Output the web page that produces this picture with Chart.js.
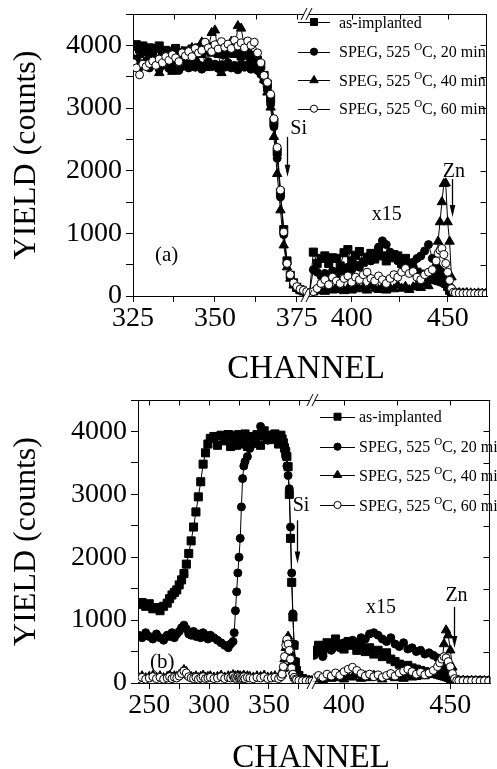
<!DOCTYPE html>
<html>
<head>
<meta charset="utf-8">
<script src="https://cdn.jsdelivr.net/npm/chart.js@4.4.0/dist/chart.umd.min.js"></script>
<style>
  html, body { margin: 0; padding: 0; background: #fff; }
  .panel { position: absolute; left: 0; width: 497px; }
  .panel canvas { position: absolute; left: 0; top: 0; }
</style>
</head>
<body>
<div class="panel" style="top:0;height:385px">
  <canvas id="aLeft" width="497" height="385"></canvas>
  <canvas id="aRight" width="497" height="385"></canvas>
</div>
<div class="panel" style="top:385px;height:384px">
  <canvas id="bLeft" width="497" height="384"></canvas>
  <canvas id="bRight" width="497" height="384"></canvas>
</div>
<script>
// ---- data (channel, yield in counts as plotted) ----

// legend text: [before superscript, superscript, after]
const legendText = [
    ['as-implanted'],
    ['SPEG, 525 ', 'O', 'C, 20 min'],
    ['SPEG, 525 ', 'O', 'C, 40 min'],
    ['SPEG, 525 ', 'O', 'C, 60 min']
];

// panel (a), left part of the broken axis
const chA_left = [325, 326, 327, 328, 329, 330, 331, 332, 333, 334,
    335, 336, 337, 338, 339, 340, 341, 342, 343, 344,
    345, 346, 347, 348, 349, 350, 351, 352, 353, 354,
    355, 356, 357, 358, 359, 360, 361, 362, 363, 364,
    365, 366, 367, 368, 369, 370, 371, 372, 373, 374,
    375, 376, 377, 378];
const aLeft_asImp = [3980, 4010, 3940, 3990, 3900, 3960, 3880, 3950, 3990, 3870,
    3920, 3860, 3900, 3950, 3880, 3820, 3910, 3860, 3940, 3890,
    3960, 3870, 3920, 3980, 3890, 3940, 3870, 3910, 3850, 3930,
    3880, 3950, 3900, 3830, 3890, 3860, 3800, 3840, 3760, 3680,
    3520, 3380, 3150, 2780, 2300, 1650, 1060, 560, 330, 210,
    140, 100, 80, 60];
const aLeft_20 = [3720, 3780, 3650, 3700, 3740, 3640, 3690, 3760, 3620, 3680,
    3710, 3630, 3670, 3740, 3600, 3660, 3700, 3640, 3720, 3650,
    3690, 3620, 3680, 3740, 3660, 3700, 3630, 3690, 3650, 3720,
    3640, 3680, 3610, 3700, 3650, 3690, 3620, 3660, 3600, 3540,
    3440, 3290, 3060, 2700, 2200, 1580, 980, 520, 300, 190,
    130, 95, 75, 60];
const aLeft_40 = [3800, 3740, 3850, 3690, 3760, 3820, 3700, 3790, 3560, 3830,
    3720, 3870, 3580, 3760, 3810, 3900, 3740, 3850, 3960, 3800,
    3900, 4050, 3640, 3950, 4200, 4240, 3880, 3560, 3990, 3920,
    4060, 3850, 4310, 4270, 3980, 3900, 3820, 3760, 3690, 3600,
    3450, 3250, 3010, 2540, 1950, 1370, 810, 460, 280, 170,
    120, 90, 70, 55];
const aLeft_60 = [3720, 3640, 3530, 3700, 3660, 3710, 3750, 3680, 3780, 3720,
    3820, 3760, 3850, 3800, 3740, 3880, 3830, 3900, 3820, 3950,
    3880, 3920, 4050, 3960, 3900, 4010, 3940, 4060, 3970, 4020,
    3950, 4080, 3990, 4040, 3960, 4070, 4000, 4050, 3880, 3720,
    3520, 3410, 3220, 2830, 2370, 1690, 1020, 520, 340, 210,
    150, 110, 90, 70];

// panel (a), right part (x15 region)
const chA_right = [378, 380, 382, 384, 386, 388, 390, 392, 394, 396,
    398, 400, 402, 404, 406, 408, 410, 412, 414, 416,
    418, 420, 422, 424, 426, 428, 430, 432, 434, 436,
    438, 440, 442, 444,
    445, 446, 447, 448, 449, 450, 451, 452, 453,
    454, 456, 458, 460, 462, 464, 466, 468, 470];
const aRight_asImp = [50, 700, 520, 600, 640, 520, 610, 600, 480, 690,
    740, 560, 650, 710, 540, 620, 680, 590, 720, 640,
    560, 610, 660, 640, 520, 600, 480, 420, 380, 350,
    330, 300, 280, 260,
    250, 240, 230, 220, 200, 150, 90, 60, 50,
    45, 40, 45, 40, 35, 40, 35, 40, 35];
const aRight_20 = [50, 420, 380, 320, 360, 300, 400, 340, 420, 380,
    460, 420, 500, 460, 540, 600, 560, 680, 780, 880,
    820, 700, 620, 560, 500, 460, 520, 540, 600, 640,
    720, 820, 600, 480,
    430, 400, 380, 360, 330, 250, 150, 80, 50,
    45, 40, 40, 45, 40, 35, 40, 35, 35];
const aRight_40 = [40, 60, 80, 100, 70, 120, 90, 140, 100, 80,
    120, 90, 150, 110, 130, 90, 160, 120, 100, 140,
    90, 130, 110, 170, 120, 150, 100, 140, 180, 130,
    200, 160, 240, 330,
    870, 1180, 1500, 1790, 1800, 1180, 870, 300, 90,
    60, 50, 45, 50, 45, 40, 45, 40, 40];
const aRight_60 = [50, 70, 120, 200, 260, 180, 300, 240, 200, 280,
    320, 220, 300, 260, 340, 380, 280, 240, 320, 260,
    200, 280, 340, 300, 380, 440, 360, 390, 300, 260,
    340, 380, 420, 560,
    680, 730, 760, 660, 520, 380, 250, 120, 60,
    50, 45, 40, 45, 40, 40, 35, 40, 35];

// panel (b), left part
const chB_left = [241, 244, 247, 250, 253, 256, 259, 262, 265,
    267, 269, 271, 273, 275, 277, 279, 281, 283, 285, 287, 289, 291, 293, 295, 297, 299, 301,
    304, 307, 310, 313, 316, 318,
    320, 321, 322, 323, 324, 325, 326, 327, 328, 329, 330, 332, 334,
    337, 340, 343, 346, 349, 352, 355, 358, 360,
    361, 362, 363, 364, 365, 366, 367, 368, 369, 370, 371, 372, 373,
    375, 378, 381, 384, 386];
const bLeft_asImp = [1250, 1280, 1220, 1260, 1180, 1200, 1150, 1220, 1270,
    1340, 1400, 1440, 1480, 1560, 1640, 1740, 1890, 2060, 2260, 2480, 2720, 2960, 3200, 3480, 3660, 3800, 3890,
    3920, 3780, 3940, 3850, 3950, 3760,
    3920, 3860, 3940, 3780, 3870, 3950, 3910, 3800, 3930, 3890, 3960, 3760, 3920,
    3900, 3950, 3780, 4010, 3920, 3870, 3960, 3800, 3940,
    3880, 3820, 3740, 3680, 3600, 3440, 3000, 2300, 1600, 1050, 600, 330, 200,
    120, 70, 50, 40, 40];
const bLeft_20 = [760, 720, 800, 740, 700, 780, 720, 680, 760,
    740, 800, 720, 780, 820, 880, 920, 860, 780, 760, 820, 740, 780, 720, 800, 760, 700, 760,
    720, 680, 640, 600, 560, 620,
    660, 800, 1150, 1450, 1750, 2000, 2300, 2800, 3250, 3450, 3520, 3600, 3730,
    3800, 3900, 4080, 3920, 3860, 3950, 3880, 3930, 3870,
    3840, 3780, 3700, 3600, 3450, 3300, 3090, 2480, 1750, 1100, 620, 350, 200,
    110, 60, 45, 40, 35];
const bLeft_40 = [90, 110, 80, 100, 120, 90, 110, 80, 100,
    120, 90, 110, 100, 130, 170, 210, 180, 120, 100, 90, 110, 80, 100, 120, 90, 100, 110,
    90, 100, 120, 90, 110, 100,
    130, 100, 110, 90, 120, 100, 110, 90, 100, 120, 90, 110, 100,
    90, 110, 100, 120, 90, 100, 110, 90, 120,
    150, 230, 380, 560, 700, 740, 640, 480, 320, 190, 120, 80, 60,
    50, 40, 40, 35, 35];
const bLeft_60 = [70, 90, 60, 80, 100, 70, 90, 60, 80,
    100, 70, 90, 80, 110, 150, 190, 160, 100, 80, 70, 90, 60, 80, 100, 70, 80, 90,
    70, 80, 100, 70, 90, 80,
    110, 80, 90, 70, 100, 80, 90, 70, 80, 100, 70, 90, 80,
    70, 90, 80, 100, 70, 80, 90, 70, 100,
    140, 260, 420, 600, 690, 620, 520, 380, 240, 140, 90, 60, 50,
    40, 35, 35, 30, 30];

// panel (b), right part (x15 region)
const chB_right = [386, 388, 390, 392, 394, 396, 398, 400, 402, 404,
    406, 408, 410, 412, 414, 416, 418, 420, 422, 424,
    426, 428, 430, 432, 434, 436, 438, 440, 442, 444,
    445, 446, 447, 448, 449, 450, 451, 452, 453,
    454, 456, 458, 460, 462, 464, 466, 468];
const bRight_asImp = [520, 600, 480, 640, 560, 700, 620, 540, 660, 600,
    520, 580, 500, 560, 460, 520, 420, 480, 380, 340,
    300, 260, 280, 240, 220, 200, 180, 160, 150, 140,
    130, 120, 110, 100, 90, 70, 50, 40, 35,
    35, 40, 35, 35, 40, 35, 35, 30];
const bRight_20 = [440, 500, 420, 560, 520, 600, 560, 640, 600, 680,
    640, 720, 700, 780, 800, 760, 700, 660, 720, 620,
    580, 640, 540, 560, 500, 520, 460, 480, 440, 400,
    360, 330, 300, 260, 200, 130, 70, 45, 40,
    35, 35, 40, 35, 35, 35, 30, 35];
const bRight_40 = [60, 90, 50, 110, 70, 80, 120, 60, 100, 90,
    130, 70, 110, 80, 120, 90, 60, 100, 130, 80,
    110, 70, 120, 90, 100, 130, 110, 150, 180, 220,
    200, 300, 620, 840, 760, 520, 250, 80, 50,
    40, 40, 35, 40, 35, 35, 35, 30];
const bRight_60 = [80, 120, 90, 140, 110, 160, 120, 180, 220, 250,
    200, 150, 110, 140, 100, 130, 90, 120, 150, 110,
    160, 190, 220, 180, 140, 170, 130, 160, 200, 260,
    320, 380, 420, 400, 340, 260, 150, 70, 40,
    35, 35, 30, 35, 35, 30, 35, 30];

// ---- styling ----
const serif = '"Liberation Serif", "Times New Roman", serif';
Chart.defaults.font.family = serif;
Chart.defaults.color = '#000';

const seriesStyles = [
    { pointStyle: 'rect', radius: 5.7, fill: '#000', order: 2 },
    { pointStyle: 'circle', radius: 4, fill: '#000', order: 3 },
    { pointStyle: 'triangle', radius: 5.4, fill: '#000', order: 1 },
    { pointStyle: 'circle', radius: 4, fill: '#fff', order: 0 }
];

function drawMarker(ctx, style, x, y) {
    ctx.beginPath();
    if (style.pointStyle === 'rect') {
        ctx.rect(x - 3.5, y - 3.5, 7, 7);
    } else if (style.pointStyle === 'triangle') {
        ctx.moveTo(x, y - 4.8);
        ctx.lineTo(x + 4.2, y + 2.4);
        ctx.lineTo(x - 4.2, y + 2.4);
        ctx.closePath();
    } else {
        ctx.arc(x, y, 3.6, 0, Math.PI * 2);
    }
    ctx.fillStyle = style.fill;
    ctx.fill();
    ctx.stroke();
}

function slashes(ctx, x, y) {
    ctx.save();
    ctx.fillStyle = '#fff';
    ctx.fillRect(x - 3, y - 1.5, 5, 3);
    ctx.beginPath();
    [-3, 2].forEach(d => {
        ctx.moveTo(x + d - 3, y + 6);
        ctx.lineTo(x + d + 3, y - 6);
    });
    ctx.strokeStyle = '#000';
    ctx.lineWidth = 1;
    ctx.stroke();
    ctx.restore();
}

function arrow(ctx, x, y1, y2) {
    x = Math.round(x) + 0.5;
    ctx.beginPath();
    ctx.moveTo(x, y1);
    ctx.lineTo(x, y2 - 8);
    ctx.lineWidth = 1.3;
    ctx.stroke();
    ctx.beginPath();
    ctx.moveTo(x - 2.8, y2 - 12);
    ctx.lineTo(x, y2);
    ctx.lineTo(x + 2.8, y2 - 12);
    ctx.closePath();
    ctx.fill();
}

// frame, break marks, labels and legend
function makeDecor(d) {
    return {
        id: 'decor',
        afterDraw(chart) {
            const ctx = chart.ctx;
            const xs = chart.scales.x, ys = chart.scales.y;
            const a = chart.chartArea;
            ctx.save();
            ctx.strokeStyle = '#000';
            ctx.fillStyle = '#000';
            ctx.lineWidth = 1;

            const t = Math.round(a.top) + 0.5;
            ctx.beginPath();
            ctx.moveTo(a.left, t);
            ctx.lineTo(a.right, t);
            xs.ticks.forEach(tk => {
                const x = Math.round(xs.getPixelForValue(tk.value)) + 0.5;
                ctx.moveTo(x, t);
                ctx.lineTo(x, t + 5);
            });
            if (d.rightEdge) {
                const r = Math.round(a.right) - 0.5;
                ctx.moveTo(r, a.top);
                ctx.lineTo(r, a.bottom);
                for (let v = 500; v <= 4000; v += 500) {
                    const y = Math.round(ys.getPixelForValue(v)) + 0.5;
                    ctx.moveTo(r, y);
                    ctx.lineTo(r - 6, y);
                }
            }
            ctx.stroke();

            if (d.breakMarks) {
                slashes(ctx, a.left, a.top);
                slashes(ctx, a.left, a.bottom);
            }

            (d.texts || []).forEach(tx => {
                ctx.font = tx.size + 'px ' + serif;
                ctx.textAlign = tx.align || 'left';
                ctx.textBaseline = 'alphabetic';
                ctx.fillText(tx.text, xs.getPixelForValue(tx.x), ys.getPixelForValue(tx.y));
            });
            (d.arrows || []).forEach(ar => {
                arrow(ctx, xs.getPixelForValue(ar.x), ys.getPixelForValue(ar.y1), ys.getPixelForValue(ar.y2));
            });

            if (d.axisTitle) {
                ctx.font = '33px ' + serif;
                ctx.textAlign = 'center';
                ctx.textBaseline = 'alphabetic';
                ctx.fillText('CHANNEL', d.axisTitle.x, d.axisTitle.y);
            }

            if (d.legend) {
                const lg = d.legend;
                ctx.textAlign = 'left';
                ctx.textBaseline = 'alphabetic';
                lg.rows.forEach((ry, i) => {
                    ctx.lineWidth = 1;
                    ctx.strokeStyle = '#000';
                    ctx.beginPath();
                    ctx.moveTo(lg.x1, Math.round(ry) + 0.5);
                    ctx.lineTo(lg.x2, Math.round(ry) + 0.5);
                    ctx.stroke();
                    drawMarker(ctx, seriesStyles[i], lg.mx, ry);
                    ctx.fillStyle = '#000';
                    const parts = legendText[i];
                    const base = ry + 5.5;
                    let x = lg.tx;
                    ctx.font = '16px ' + serif;
                    ctx.fillText(parts[0], x, base);
                    x += ctx.measureText(parts[0]).width;
                    if (parts.length > 1) {
                        ctx.font = '11px ' + serif;
                        ctx.fillText(parts[1], x, base - 7);
                        x += ctx.measureText(parts[1]).width;
                        ctx.font = '16px ' + serif;
                        ctx.fillText(parts[2], x, base);
                    }
                });
            }
            ctx.restore();
        }
    };
}

function buildSegment(id, seg) {
    const datasets = seg.values.map((vals, i) => {
        const s = seriesStyles[i];
        return {
            label: legendText[i].join(''),
            data: seg.channels.map((c, k) => ({ x: c, y: vals[k] })),
            borderColor: '#000',
            borderWidth: 1,
            pointStyle: s.pointStyle,
            pointRadius: s.radius,
            pointBackgroundColor: s.fill,
            pointBorderColor: '#000',
            pointBorderWidth: 1,
            order: s.order,
            tension: 0
        };
    });
    const tickFont = { size: 28, family: serif };
    return new Chart(document.getElementById(id), {
        type: 'line',
        data: { datasets },
        options: {
            responsive: false,
            animation: false,
            devicePixelRatio: 1,
            events: [],
            layout: { padding: { top: seg.top, left: seg.padLeft, right: seg.padRight, bottom: 0 } },
            plugins: { legend: { display: false }, tooltip: { enabled: false } },
            scales: {
                x: {
                    type: 'linear',
                    min: seg.xMin,
                    max: seg.xMax,
                    ticks: {
                        stepSize: seg.xStep,
                        includeBounds: false,
                        autoSkip: false,
                        maxRotation: 0,
                        padding: 0,
                        font: tickFont,
                        color: '#000',
                        callback: v => (v % seg.xLabelEvery === 0 ? String(v) : '')
                    },
                    grid: { drawOnChartArea: false, drawTicks: true, tickLength: 6, tickColor: '#000', tickWidth: 1 },
                    border: { display: true, color: '#000', width: 1 },
                    afterFit: s => { s.height = seg.xHeight; s.paddingLeft = 0; s.paddingRight = 0; }
                },
                y: {
                    type: 'linear',
                    display: seg.showY,
                    min: 0,
                    max: 4500,
                    ticks: {
                        stepSize: 500,
                        includeBounds: false,
                        autoSkip: false,
                        padding: 4,
                        font: tickFont,
                        color: '#000',
                        callback: v => (v % 1000 === 0 ? String(v) : '')
                    },
                    grid: { drawOnChartArea: false, drawTicks: true, tickLength: 7, tickColor: '#000', tickWidth: 1 },
                    border: { display: true, color: '#000', width: 1 },
                    title: {
                        display: true,
                        text: 'YIELD (counts)',
                        font: { size: 32, family: serif },
                        color: '#000',
                        padding: { top: 7, bottom: 0 }
                    },
                    afterFit: s => { s.width = seg.yWidth; s.paddingTop = 0; s.paddingBottom = 0; }
                }
            }
        },
        plugins: [makeDecor(seg.decor)]
    });
}

// panel (a)
buildSegment('aLeft', {
    channels: chA_left,
    values: [aLeft_asImp, aLeft_20, aLeft_40, aLeft_60],
    xMin: 325, xMax: 378.1, xStep: 12.5, xLabelEvery: 25,
    top: 14, padLeft: 0, padRight: 190, xHeight: 89, yWidth: 133, showY: true,
    decor: {
        texts: [
            { text: 'Si', x: 373.0, y: 2582, size: 20 },
            { text: '(a)', x: 331.7, y: 558, size: 21 }
        ],
        arrows: [{ x: 372.1, y1: 2539, y2: 1901 }]
    }
});
buildSegment('aRight', {
    channels: chA_right,
    values: [aRight_asImp, aRight_20, aRight_40, aRight_60],
    xMin: 376.7, xMax: 470.5, xStep: 25, xLabelEvery: 50,
    top: 14, padLeft: 307, padRight: 10, xHeight: 89, yWidth: 0, showY: false,
    decor: {
        rightEdge: true,
        breakMarks: true,
        texts: [
            { text: 'x15', x: 418.2, y: 1211, size: 20, align: 'center' },
            { text: 'Zn', x: 453.2, y: 1896, size: 20, align: 'center' }
        ],
        arrows: [{ x: 452.1, y1: 1865, y2: 1259 }],
        axisTitle: { x: 306, y: 378 },
        legend: { rows: [22, 51.7, 80.3, 108.7], x1: 298, x2: 330, mx: 314, tx: 339 }
    }
});

// panel (b)
buildSegment('bLeft', {
    channels: chB_left,
    values: [bLeft_asImp, bLeft_20, bLeft_40, bLeft_60],
    xMin: 240.6, xMax: 386.8, xStep: 25, xLabelEvery: 50,
    top: 15, padLeft: 0, padRight: 184, xHeight: 86, yWidth: 138, showY: true,
    decor: {
        texts: [
            { text: 'Si', x: 369.8, y: 2735, size: 20 },
            { text: '(b)', x: 250.6, y: 238, size: 21 }
        ],
        arrows: [{ x: 373.1, y1: 2587, y2: 1900 }]
    }
});
buildSegment('bRight', {
    channels: chB_right,
    values: [bRight_asImp, bRight_20, bRight_40, bRight_60],
    xMin: 385.4, xMax: 468.8, xStep: 25, xLabelEvery: 50,
    top: 15, padLeft: 313, padRight: 5, xHeight: 86, yWidth: 0, showY: false,
    decor: {
        rightEdge: true,
        breakMarks: true,
        texts: [
            { text: 'x15', x: 417.4, y: 1111, size: 20, align: 'center' },
            { text: 'Zn', x: 452.9, y: 1302, size: 20, align: 'center' }
        ],
        arrows: [{ x: 451.6, y1: 1211, y2: 556 }],
        axisTitle: { x: 311, y: 382 },
        legend: { rows: [31.7, 61.7, 90, 120], x1: 320, x2: 355, mx: 337.5, tx: 359 }
    }
});
</script>
</body>
</html>
